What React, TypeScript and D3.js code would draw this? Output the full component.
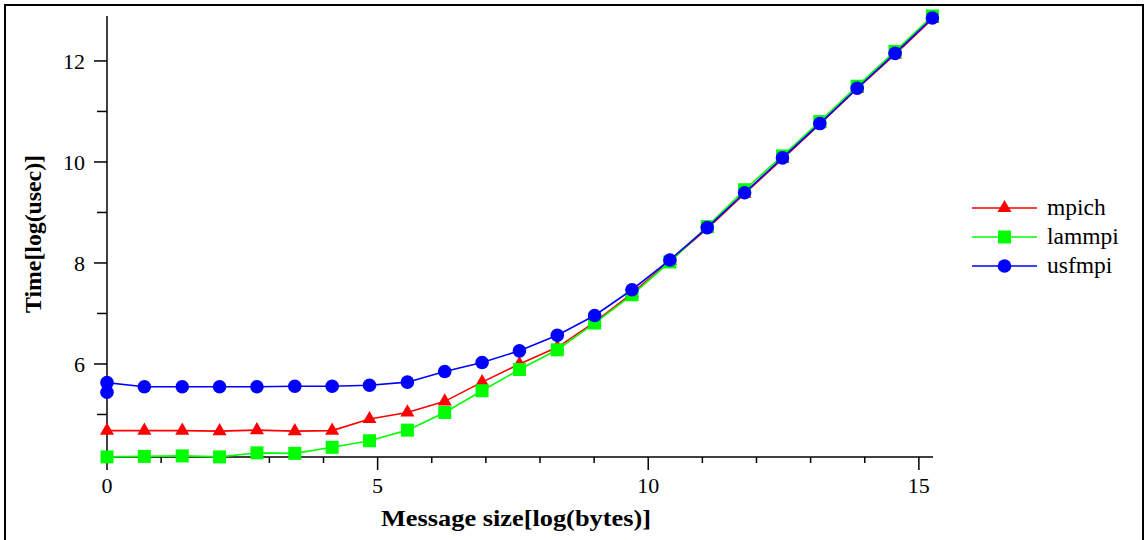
import React from "react";
import * as d3 from "d3";

const xValues = [0, 0.69, 1.39, 2.08, 2.77, 3.47, 4.16, 4.85, 5.55, 6.24, 6.93, 7.62, 8.32, 9.01, 9.70, 10.40, 11.09, 11.78, 12.48, 13.17, 13.86, 14.56, 15.25];
const mpich = [4.68, 4.68, 4.68, 4.67, 4.69, 4.67, 4.68, 4.91, 5.04, 5.26, 5.64, 6.00, 6.33, 6.83, 7.40, 8.04, 8.68, 9.37, 10.06, 10.75, 11.45, 12.13, 12.83];
const lammpi = [4.16, 4.17, 4.18, 4.16, 4.24, 4.23, 4.35, 4.48, 4.69, 5.04, 5.47, 5.89, 6.28, 6.81, 7.37, 8.02, 8.72, 9.45, 10.12, 10.80, 11.50, 12.19, 12.89];
const usfmpiX = [0, 0, 0.69, 1.39, 2.08, 2.77, 3.47, 4.16, 4.85, 5.55, 6.24, 6.93, 7.62, 8.32, 9.01, 9.70, 10.40, 11.09, 11.78, 12.48, 13.17, 13.86, 14.56, 15.25];
const usfmpi = [5.44, 5.63, 5.55, 5.55, 5.55, 5.55, 5.56, 5.56, 5.58, 5.64, 5.85, 6.03, 6.26, 6.57, 6.96, 7.47, 8.06, 8.70, 9.39, 10.08, 10.76, 11.46, 12.15, 12.85];

const xMajor = [0, 5, 10, 15];
const xMinor = [1, 2, 3, 4, 6, 7, 8, 9, 11, 12, 13, 14];
const yMajor = [6, 8, 10, 12];
const yMinor = [5, 7, 9, 11];

const seriesNames = ["mpich", "lammpi", "usfmpi"];
const seriesColors = ["#ff0000", "#00ff00", "#0000ff"];

const FONT = "'Liberation Serif', 'Times New Roman', serif";

function Marker({ kind, cx, cy, color }: { kind: string; cx: number; cy: number; color: string }) {
  if (kind === "triangle") {
    const p = d3.symbol(d3.symbolTriangle, 85)();
    return <path d={p || ""} transform={`translate(${cx},${cy})`} fill={color} />;
  }
  if (kind === "square") {
    return <rect x={cx - 6.5} y={cy - 6.5} width={13} height={13} fill={color} />;
  }
  return <circle cx={cx} cy={cy} r={6.8} fill={color} />;
}

export default function App() {
  const x = d3.scaleLinear().domain([0, 15.25]).range([107, 932.4]);
  const y = d3.scaleLinear().domain([4.158, 12.89]).range([457, 16]);
  const line = d3
    .line<[number, number]>()
    .x((d) => x(d[0]))
    .y((d) => y(d[1]));

  const series = [
    { name: seriesNames[0], color: seriesColors[0], kind: "triangle", pts: xValues.map((v, i) => [v, mpich[i]] as [number, number]) },
    { name: seriesNames[1], color: seriesColors[1], kind: "square", pts: xValues.map((v, i) => [v, lammpi[i]] as [number, number]) },
    { name: seriesNames[2], color: seriesColors[2], kind: "circle", pts: usfmpiX.map((v, i) => [v, usfmpi[i]] as [number, number]) },
  ];

  const axisY = 457;
  const axisX = 107;

  return (
    <svg width={1146} height={540} style={{ position: "absolute", left: 0, top: 0, background: "#fff" }} fontFamily={FONT}>
      <rect x={5} y={5} width={1138} height={545} fill="none" stroke="#000" strokeWidth={2} />
      {/* x axis */}
      <line x1={axisX} x2={933} y1={axisY} y2={axisY} stroke="#000" strokeWidth={1.5} />
      {xMajor.map((t) => (
        <g key={"xm" + t}>
          <line x1={x(t)} x2={x(t)} y1={axisY} y2={axisY + 13} stroke="#000" strokeWidth={1.5} />
          <text x={x(t)} y={493} fontSize={22} textAnchor="middle">{t}</text>
        </g>
      ))}
      {xMinor.map((t) => (
        <line key={"xn" + t} x1={x(t)} x2={x(t)} y1={axisY} y2={axisY + 6} stroke="#000" strokeWidth={1.5} />
      ))}
      {/* y axis */}
      <line x1={axisX} x2={axisX} y1={16} y2={axisY} stroke="#000" strokeWidth={1.5} />
      {yMajor.map((t) => (
        <g key={"ym" + t}>
          <line x1={axisX - 13} x2={axisX} y1={y(t)} y2={y(t)} stroke="#000" strokeWidth={1.5} />
          <text x={85} y={y(t)} dy="0.35em" fontSize={22} textAnchor="end">{t}</text>
        </g>
      ))}
      {yMinor.map((t) => (
        <line key={"yn" + t} x1={axisX - 10} x2={axisX} y1={y(t)} y2={y(t)} stroke="#000" strokeWidth={1.5} />
      ))}
      {/* titles */}
      <text x={381} y={526} fontSize={23} fontWeight="bold" textLength={270} lengthAdjust="spacingAndGlyphs">Message size[log(bytes)]</text>
      <text transform="translate(41,313) rotate(-90)" fontSize={23} fontWeight="bold" textLength={158} lengthAdjust="spacingAndGlyphs">Time[log(usec)]</text>
      {/* series */}
      {series.map((s) => (
        <g key={s.name}>
          <path d={line(s.pts) || ""} fill="none" stroke={s.color} strokeWidth={1.6} />
          {s.pts.map((p, i) => (
            <Marker key={i} kind={s.kind} cx={x(p[0])} cy={y(p[1])} color={s.color} />
          ))}
        </g>
      ))}
      {/* legend */}
      {series.map((s, i) => {
        const ly = 208 + i * 29;
        return (
          <g key={"lg" + s.name}>
            <line x1={972} x2={1037} y1={ly} y2={ly} stroke={s.color} strokeWidth={1.6} />
            <Marker kind={s.kind} cx={1004.5} cy={ly} color={s.color} />
            <text x={1047} y={ly} dy="0.3em" fontSize={23.5}>{s.name}</text>
          </g>
        );
      })}
    </svg>
  );
}
